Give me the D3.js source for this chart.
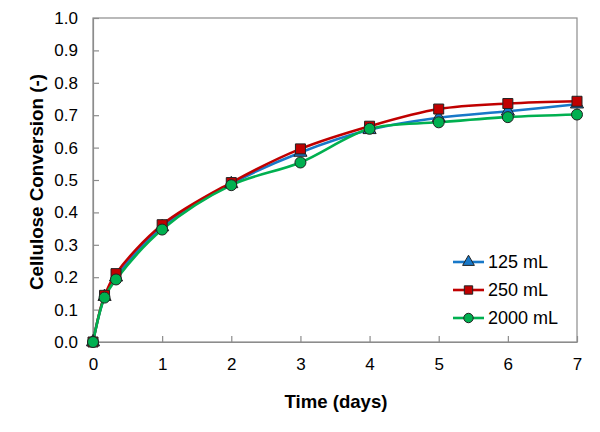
<!DOCTYPE html>
<html><head><meta charset="utf-8">
<script src="https://cdn.jsdelivr.net/npm/d3@7"></script>
<style>body{margin:0;background:#fff}svg{display:block}</style>
</head><body><svg id="c" width="600" height="432"></svg>
<script>
const days = [0, 0.167, 0.333, 1, 2, 3, 4, 5, 6, 7];
const s125 = [0, 0.140, 0.200, 0.355, 0.488, 0.585, 0.655, 0.692, 0.712, 0.734];
const s250 = [0, 0.144, 0.211, 0.362, 0.492, 0.596, 0.666, 0.719, 0.736, 0.743];
const s2000 = [0, 0.137, 0.193, 0.347, 0.484, 0.554, 0.658, 0.678, 0.694, 0.702];
const seriesNames = ["125 mL", "250 mL", "2000 mL"];
const xTicks = [0, 1, 2, 3, 4, 5, 6, 7];
const yTicks = [0, 0.1, 0.2, 0.3, 0.4, 0.5, 0.6, 0.7, 0.8, 0.9, 1.0];

const colors = ["#1878c8", "#c00000", "#00b050"];
const shapes = [d3.symbolTriangle, d3.symbolSquare, d3.symbolCircle];
const series = [s125, s250, s2000];

const svg = d3.select("#c");
const L = 93, R = 577, T = 18, B = 342;
const x = d3.scaleLinear().domain([0, 7]).range([L, R]);
const y = d3.scaleLinear().domain([0, 1]).range([B, T]);
const font = "'Liberation Sans', Arial, sans-serif";

// frame
svg.append("rect").attr("x", L).attr("y", T).attr("width", R - L).attr("height", B - T)
  .attr("fill", "none").attr("stroke", "#8c8c8c").attr("stroke-width", 1.2);

const xa = svg.append("g").attr("transform", `translate(0,${B})`)
  .call(d3.axisBottom(x).tickValues(xTicks).tickFormat(d3.format("d")).tickSizeInner(-6).tickSizeOuter(0).tickPadding(16));
const ya = svg.append("g").attr("transform", `translate(${L},0)`)
  .call(d3.axisLeft(y).tickValues(yTicks).tickFormat(d3.format(".1f")).tickSizeInner(-6).tickSizeOuter(0).tickPadding(15));
[xa, ya].forEach(g => {
  g.select(".domain").attr("stroke", "#8c8c8c").attr("stroke-width", 1.2);
  g.selectAll(".tick line").attr("stroke", "#8c8c8c").attr("stroke-width", 1.2);
  g.selectAll("text").attr("font-family", font).attr("font-size", 17).attr("fill", "#000");
});

const line = d3.line().x((d, i) => x(days[i])).y(d => y(d)).curve(d3.curveCatmullRom.alpha(0.5));
series.forEach((s, k) => {
  svg.append("path").datum(s).attr("d", line).attr("fill", "none")
    .attr("stroke", colors[k]).attr("stroke-width", 2.6);
});
series.forEach((s, k) => {
  svg.append("g").selectAll("path").data(s).join("path")
    .attr("transform", (d, i) => `translate(${x(days[i])},${y(d)})`)
    .attr("d", d3.symbol().type(shapes[k]).size(k === 0 ? 75 : (k === 1 ? 100 : 95)))
    .attr("fill", colors[k]).attr("stroke", "#222").attr("stroke-width", 1);
});

// legend
const lg = svg.append("g");
seriesNames.forEach((n, k) => {
  const yy = 262 + k * 28;
  lg.append("line").attr("x1", 453).attr("x2", 484).attr("y1", yy).attr("y2", yy)
    .attr("stroke", colors[k]).attr("stroke-width", 2.6);
  lg.append("path").attr("transform", `translate(468.5,${yy})`)
    .attr("d", d3.symbol().type(shapes[k]).size(k === 0 ? 60 : 70))
    .attr("fill", colors[k]).attr("stroke", "#222").attr("stroke-width", 1);
  lg.append("text").attr("x", 488).attr("y", yy).attr("dy", "0.36em")
    .attr("font-family", font).attr("font-size", 18).text(n);
});

svg.append("text").attr("x", (L + R) / 2 + 1).attr("y", 408).attr("text-anchor", "middle")
  .attr("font-family", font).attr("font-weight", "bold").attr("font-size", 18.6).text("Time (days)");
svg.append("text").attr("transform", `translate(43,${182}) rotate(-90)`)
  .attr("text-anchor", "middle").attr("font-family", font).attr("font-weight", "bold")
  .attr("font-size", 18.8).text("Cellulose Conversion (-)");
</script></body></html>
